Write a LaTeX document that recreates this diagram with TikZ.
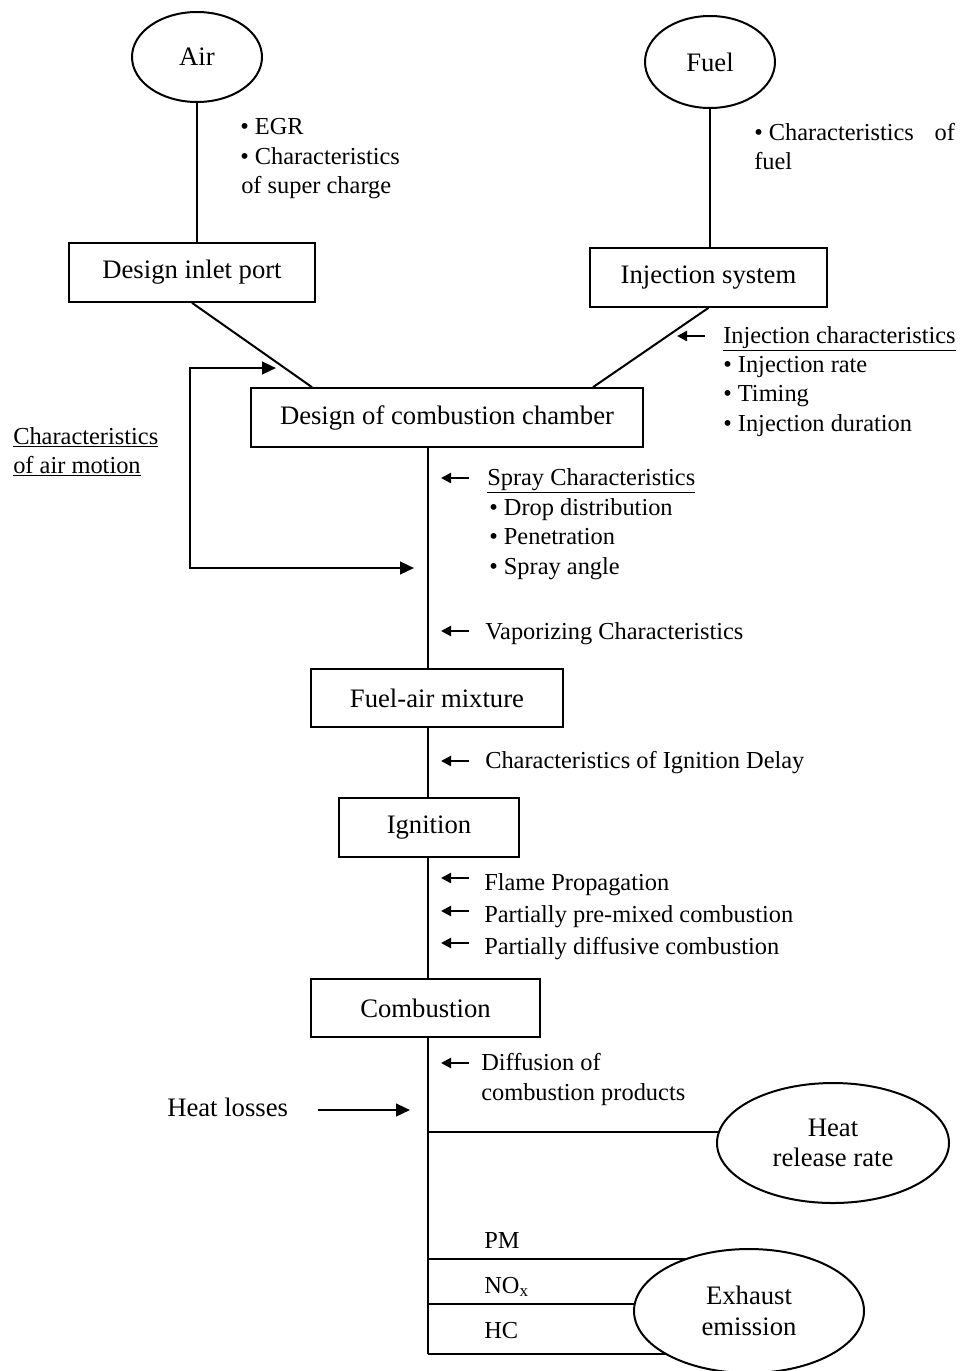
\documentclass[tikz,border=0pt]{standalone}
\usepackage{fontspec}
\setmainfont{Liberation Serif}
\usetikzlibrary{shapes.geometric,arrows.meta,backgrounds,calc}
\newcommand{\myboxfont}{\fontsize{20}{24}\selectfont}
\newcommand{\mylabfont}{\fontsize{18.3}{22.5}\selectfont}
\tikzset{
  ln/.style={line width=1.5pt},
  boxnode/.style={draw, ln, inner sep=0pt, font=\myboxfont, minimum height=44pt},
  ellnode/.style={draw, ln, ellipse, inner sep=0pt, font=\myboxfont, align=center, fill=white},
  lab/.style={anchor=base west, inner sep=0pt, font=\mylabfont},
  bigarrow/.style={line width=1.8pt, -{Triangle[length=10.5pt,width=9.5pt]}},
  smallarrow/.style={line width=1.8pt, -{Triangle[length=7.5pt,width=7.5pt]}},
}
\begin{document}
\begin{tikzpicture}[x=0.75pt,y=-0.75pt]
\useasboundingbox (0,0) rectangle (960,1371);

% ellipses
\node[ellnode, minimum width=97.5pt, minimum height=67.5pt] (air) at (197,57) {Air};
\node[ellnode, minimum width=97.5pt, minimum height=69pt] (fuel) at (710,62) {Fuel};
\node[ellnode, minimum width=174pt, minimum height=90pt] (hrr) at (833,1143) {Heat\\[-1pt]release rate};
\node[ellnode, minimum width=172.5pt, minimum height=93pt] (exh) at (749,1311) {Exhaust\\[-1pt]emission};

% boxes
\node[boxnode, minimum width=184.5pt] (inlet) at (192,272.5) {Design inlet port};
\node[boxnode, minimum width=177.75pt] (inj) at (708.5,277.5) {Injection system};
\node[boxnode, minimum width=294pt] (chamber) at (447,417.5) {Design of combustion chamber};
\node[boxnode, minimum width=189pt, minimum height=43.5pt] (mix) at (437,698) {Fuel-air mixture};
\node[boxnode, minimum width=135pt] (ign) at (429,827.5) {Ignition};
\node[boxnode, minimum width=171.75pt, minimum height=43.5pt] (comb) at (425.5,1008) {Combustion};

% trunk x
\coordinate (tx) at (428,0);

% top connectors
\draw[ln] (air.south) -- (air.south |- inlet.north);
\draw[ln] (fuel.south) -- (fuel.south |- inj.north);
\draw[ln] (inlet.south) -- ($(chamber.north west)+(62,0)$);
\draw[ln] (inj.south) -- ($(chamber.north east)+(-51,0)$);

% trunk
\draw[ln] (chamber.south -| tx) -- (mix.north -| tx);
\draw[ln] (mix.south -| tx) -- (ign.north -| tx);
\draw[ln] (ign.south -| tx) -- (comb.north -| tx);
\coordinate (bend) at (428,1354);
\draw[ln] (comb.south -| tx) -- (bend);

% air motion loop
\coordinate (amTop) at (276,368);
\coordinate (amTL) at (190,368);
\coordinate (amBL) at (190,568);
\coordinate (amBot) at (414,568);
\draw[line width=1.8pt, {Triangle[length=10.5pt,width=9.5pt]}-{Triangle[length=10.5pt,width=9.5pt]}] (amTop) -- (amTL) -- (amBL) -- (amBot);

% injection arrow
\coordinate (ia0) at (705,336); \coordinate (ia1) at (677,336);
\draw[smallarrow] (ia0) -- (ia1);

% small left arrows at trunk
\foreach \yy/\nm in {478/s1,631/s2,761/s3,878/s4,911/s5,943/s6,1063/s7}{
  \coordinate (\nm a) at (469,\yy); \coordinate (\nm b) at (441,\yy);
  \draw[smallarrow] (\nm a) -- (\nm b);
}

% heat losses arrow
\coordinate (hl0) at (318,1110); \coordinate (hl1) at (410,1110);
\draw[bigarrow] (hl0) -- (hl1);

% branches to ellipses (behind them)
\coordinate (b1) at (428,1132);
\coordinate (b2) at (428,1259);
\coordinate (b3) at (428,1304);
\begin{scope}[on background layer]
\draw[ln] (b1) -- (b1 -| hrr.center);
\draw[ln] (b2) -- (b2 -| exh.center);
\draw[ln] (b3) -- (b3 -| exh.center);
\draw[ln] (bend) -- (bend -| exh.center);
\end{scope}

% labels
\node[lab] (t1) at (240,134) {• EGR};
\node[lab] (t2) at (240,164) {• Characteristics};
\node[lab] (t3) at (241,193) {of super charge};
\node[lab] (t4) at (754,140) {• Characteristics\hspace{11pt} of};
\node[lab] (t5) at (754,169) {fuel};
\node[lab] (t6) at (723,343) {\underline{Injection characteristics}};
\node[lab] (t7) at (723,372) {• Injection rate};
\node[lab] (t8) at (723,401) {• Timing};
\node[lab] (t9) at (723,431) {• Injection duration};
\node[lab] (t10) at (13,444) {\underline{Characteristics}};
\node[lab] (t11) at (13,473) {\underline{of air motion}};
\node[lab] (t12) at (487,485) {\underline{Spray Characteristics}};
\node[lab] (t13) at (489,515) {• Drop distribution};
\node[lab] (t14) at (489,544) {• Penetration};
\node[lab] (t15) at (489,574) {• Spray angle};
\node[lab] (t16) at (485,639) {Vaporizing Characteristics};
\node[lab] (t17) at (485,768) {Characteristics of Ignition Delay};
\node[lab] (t18) at (484,890) {Flame Propagation};
\node[lab] (t19) at (484,922) {Partially pre-mixed combustion};
\node[lab] (t20) at (484,954) {Partially diffusive combustion};
\node[lab] (t21) at (481,1070) {Diffusion of};
\node[lab] (t22) at (481,1100) {combustion products};
\node[lab, font=\myboxfont] (t23) at (167,1116) {Heat losses};
\node[lab] (t24) at (484,1248) {PM};
\node[lab] (t25) at (484,1293) {NO\textsubscript{x}};
\node[lab] (t26) at (484,1338) {HC};
\end{tikzpicture}
\end{document}
